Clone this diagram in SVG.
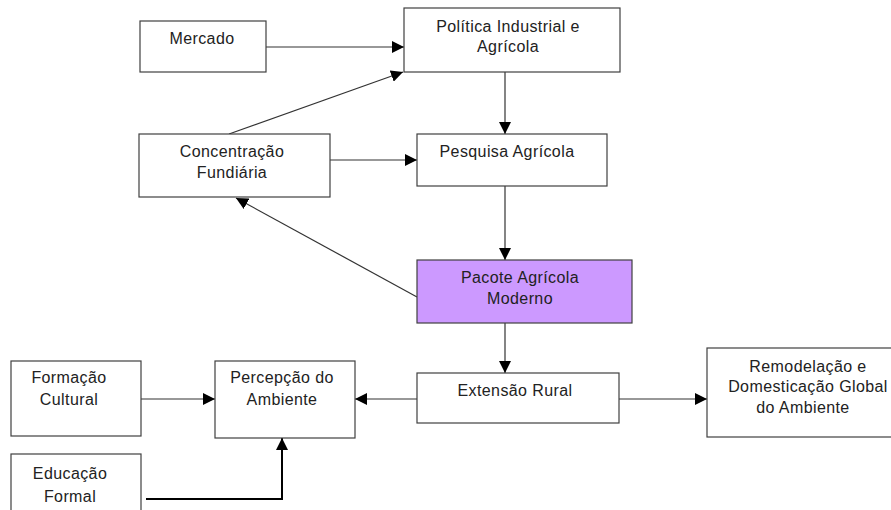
<svg xmlns="http://www.w3.org/2000/svg" width="891" height="510" viewBox="0 0 891 510">
<defs>
<style>
.box{fill:#ffffff;stroke:#404040;stroke-width:1.2}
.hl{fill:#cc99ff}
.t{font-family:"Liberation Sans",Arial,sans-serif;font-size:16px;letter-spacing:0.4px;fill:#222;text-anchor:middle}
.c{fill:none;stroke:#333;stroke-width:1.2}
</style>
<marker id="ah" viewBox="0 0 12 12" refX="12" refY="6" markerWidth="12" markerHeight="12" markerUnits="userSpaceOnUse" orient="auto">
<path d="M0,0 L12,6 L0,12 Z" fill="#000"/>
</marker>
</defs>
<rect width="891" height="510" fill="#fff"/>
<g id="connectors">
<line class="c" x1="266" y1="47" x2="404" y2="47" marker-end="url(#ah)"/>
<line class="c" x1="229" y1="134" x2="403" y2="72" marker-end="url(#ah)"/>
<line class="c" x1="505" y1="72" x2="505" y2="134" marker-end="url(#ah)"/>
<line class="c" x1="330" y1="160" x2="417" y2="160" marker-end="url(#ah)"/>
<line class="c" x1="505" y1="186" x2="505" y2="260" marker-end="url(#ah)"/>
<line class="c" x1="417" y1="297" x2="236" y2="198" marker-end="url(#ah)"/>
<line class="c" x1="505" y1="323" x2="505" y2="373" marker-end="url(#ah)"/>
<line class="c" x1="619" y1="399" x2="707" y2="399" marker-end="url(#ah)"/>
<line class="c" x1="417" y1="399" x2="355" y2="399" marker-end="url(#ah)"/>
<line class="c" x1="139" y1="399" x2="215" y2="399" marker-end="url(#ah)"/>
<polyline fill="none" stroke="#000" stroke-width="2" points="146,499 282,499 282,438" marker-end="url(#ah)"/>
</g>
<g id="mercado">
<rect class="box" x="140" y="21" width="126" height="51"/>
<text class="t" x="202" y="44">Mercado</text>
</g>
<g id="politica">
<rect class="box" x="404" y="8" width="216" height="64"/>
<text class="t" x="508" y="32">Política Industrial e</text>
<text class="t" x="508" y="52">Agrícola</text>
</g>
<g id="concentracao">
<rect class="box" x="139" y="134" width="191" height="63"/>
<text class="t" x="232" y="157">Concentração</text>
<text class="t" x="232" y="178">Fundiária</text>
</g>
<g id="pesquisa">
<rect class="box" x="417" y="134" width="190" height="52"/>
<text class="t" x="507" y="157">Pesquisa Agrícola</text>
</g>
<g id="pacote">
<rect class="box hl" x="417" y="260" width="215" height="63"/>
<text class="t" x="520" y="283">Pacote Agrícola</text>
<text class="t" x="520" y="304">Moderno</text>
</g>
<g id="extensao">
<rect class="box" x="417" y="373" width="202" height="50"/>
<text class="t" x="515" y="396">Extensão Rural</text>
</g>
<g id="remodelacao">
<rect class="box" x="707" y="348" width="205" height="89"/>
<text class="t" x="808" y="372">Remodelação e</text>
<text class="t" x="808" y="392">Domesticação Global</text>
<text class="t" x="803" y="413">do Ambiente</text>
</g>
<g id="percepcao">
<rect class="box" x="215" y="361" width="140" height="77"/>
<text class="t" x="282" y="383">Percepção do</text>
<text class="t" x="282" y="405">Ambiente</text>
</g>
<g id="formacao">
<rect class="box" x="11" y="361" width="130" height="75"/>
<text class="t" x="69" y="383">Formação</text>
<text class="t" x="69" y="405">Cultural</text>
</g>
<g id="educacao">
<rect class="box" x="11" y="454" width="130" height="70"/>
<text class="t" x="70" y="479">Educação</text>
<text class="t" x="70" y="502">Formal</text>
</g>
</svg>
